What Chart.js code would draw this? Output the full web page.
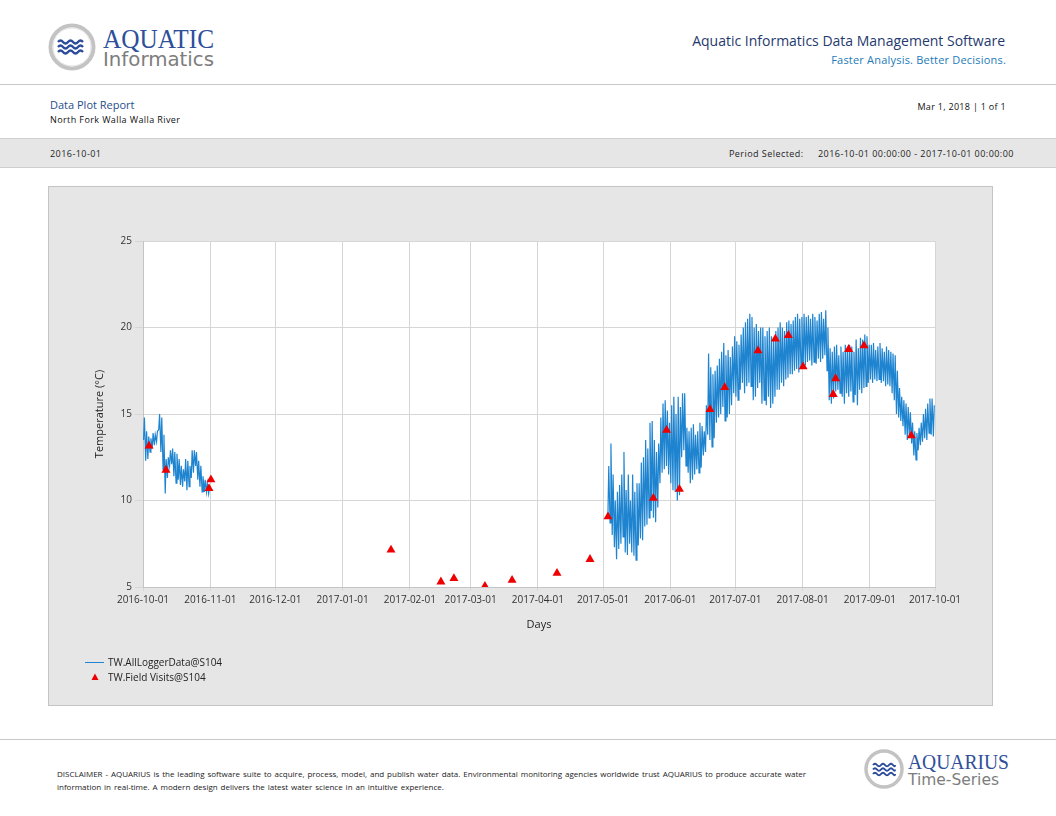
<!DOCTYPE html>
<html>
<head>
<meta charset="utf-8">
<script src="https://cdn.jsdelivr.net/npm/chart.js@4.4.1/dist/chart.umd.min.js"></script>
<style>
  body { margin: 0; width: 1056px; height: 816px; position: relative; background: #fff; font-family: "Open Sans", sans-serif; overflow: hidden; }
  .abs { position: absolute; white-space: nowrap; }
  .rule { position: absolute; left: 0; width: 1056px; height: 0; border-top: 1px solid #c8c8c8; }
  #band { position: absolute; left: 0; top: 138px; width: 1056px; height: 28px; background: #e6e6e6; border-top: 1px solid #cfcfcf; border-bottom: 1px solid #cfcfcf; }
  #band .abs { font-size: 9px; color: #222; letter-spacing: 0.45px; top: 8px; }
  #chartBox { position: absolute; left: 48px; top: 186px; width: 945px; height: 520px; box-sizing: border-box; background: #e6e6e6; border: 1px solid #c4c4c4; }
  #chartBox canvas { position: absolute; left: 0; top: 0; }
  .legend { position: absolute; left: 36px; font-size: 10px; color: #222; white-space: nowrap; }
  .legend .line { position: absolute; left: 0; top: 7px; width: 19px; height: 0; border-top: 1.5px solid #1e84d0; }
  .legend .txt { position: absolute; left: 23px; top: 0; }
</style>
</head>
<body>

<!-- header -->
<svg class="abs" style="left:44px;top:20px" width="180" height="56">
  <circle cx="28" cy="27" r="21.5" fill="#fff" stroke="#c3c3c3" stroke-width="4"/>
  <circle cx="28" cy="27" r="19" fill="none" stroke="#e4e4e4" stroke-width="1"/>
  <g fill="none" stroke="#2b4c9b" stroke-width="2.3">
    <path d="M14,22 q2.5,-3 5,0 t5,0 t5,0 t5,0 t5,0"/>
    <path d="M14,27 q2.5,-3 5,0 t5,0 t5,0 t5,0 t5,0"/>
    <path d="M14,32 q2.5,-3 5,0 t5,0 t5,0 t5,0 t5,0"/>
  </g>
  <text x="59" y="28" textLength="111" lengthAdjust="spacingAndGlyphs" font-family="Liberation Serif" font-size="27" fill="#2e4f9a">AQUATIC</text>
  <text x="59" y="46" textLength="111" lengthAdjust="spacingAndGlyphs" font-family="DejaVu Sans" font-size="19" fill="#7d7d7d">Informatics</text>
</svg>
<div class="abs" style="right:51px;top:31px;font-size:14px;color:#1f3a6e;">Aquatic Informatics Data Management Software</div>
<div class="abs" style="right:50px;top:52px;font-size:11px;color:#1b7ab8;letter-spacing:0.2px;">Faster Analysis. Better Decisions.</div>
<div class="rule" style="top:84px"></div>

<div class="abs" style="left:50px;top:97px;font-size:11px;color:#1f4e8c;">Data Plot Report</div>
<div class="abs" style="left:50px;top:113px;font-size:9px;color:#111;letter-spacing:0.4px;">North Fork Walla Walla River</div>
<div class="abs" style="right:50px;top:100px;font-size:9px;color:#111;letter-spacing:0.3px;">Mar 1, 2018 | 1 of 1</div>

<div id="band">
  <div class="abs" style="left:50px;">2016-10-01</div>
  <div class="abs" style="left:729px;">Period Selected:</div>
  <div class="abs" style="left:818px;">2016-10-01 00:00:00 - 2017-10-01 00:00:00</div>
</div>

<!-- chart -->
<div id="chartBox">
  <canvas id="tempChart" width="943" height="518"></canvas>
  <div id="legendBox"></div>
</div>

<!-- footer -->
<div class="rule" style="top:739px"></div>
<div class="abs" style="left:57px;top:767px;font-size:8px;line-height:13px;color:#222;word-spacing:0.85px;">DISCLAIMER - AQUARIUS is the leading software suite to acquire, process, model, and publish water data. Environmental monitoring agencies worldwide trust AQUARIUS to produce accurate water<br>information in real-time. A modern design delivers the latest water science in an intuitive experience.</div>
<svg class="abs" style="left:862px;top:748px" width="160" height="44">
  <circle cx="22" cy="21" r="18" fill="#fff" stroke="#c3c3c3" stroke-width="3.5"/>
  <g fill="none" stroke="#2b4c9b" stroke-width="2">
    <path d="M11,17 q2,-2.6 4,0 t4,0 t4,0 t4,0 t4,0 t2,0"/>
    <path d="M11,21.5 q2,-2.6 4,0 t4,0 t4,0 t4,0 t4,0 t2,0"/>
    <path d="M11,26 q2,-2.6 4,0 t4,0 t4,0 t4,0 t4,0 t2,0"/>
  </g>
  <text x="46" y="21" textLength="101" lengthAdjust="spacingAndGlyphs" font-family="Liberation Serif" font-size="22" fill="#2e4f9a">AQUARIUS</text>
  <text x="46" y="37" textLength="91" lengthAdjust="spacingAndGlyphs" font-family="DejaVu Sans" font-size="16" fill="#7d7d7d">Time-Series</text>
</svg>

<script>
// axis
const periodStart = "2016-10-01";
const tickDates = ["2016-10-01", "2016-11-01", "2016-12-01", "2017-01-01", "2017-02-01", "2017-03-01",
  "2017-04-01", "2017-05-01", "2017-06-01", "2017-07-01", "2017-08-01", "2017-09-01", "2017-10-01"];
const yTicks = [5, 10, 15, 20, 25];

// logger data, daily low / high, Oct 2016
const fallStart = "2016-10-01";
const fallHigh = [14.8, 14.0, 13.7, 13.6, 13.9, 13.8, 14.0, 15.0, 14.8, 13.8,
  12.4, 12.5, 12.9, 13.0, 12.8, 12.7, 12.4, 12.0, 11.8, 12.4,
  12.3, 12.0, 12.9, 12.9, 12.8, 12.3, 12.0, 11.4, 11.2, 11.0, 10.8];
const fallLow = [13.5, 12.3, 12.4, 12.8, 13.0, 13.2, 13.4, 14.1, 12.8, 11.8,
  10.4, 11.3, 12.0, 12.1, 11.4, 11.0, 11.2, 10.9, 10.8, 11.1,
  10.6, 10.8, 11.3, 11.6, 12.0, 11.2, 10.8, 10.5, 10.5, 10.5, 10.4];

// logger data, daily low / high, May 3 - Sep 30 2017
const summerStart = "2017-05-03";
const summerHigh = [
  12.0, 13.3, 11.5, 10.0, 10.5, 10.9, 11.5, 12.8, 10.6, 11.5, 10.0, 11.5, 10.5, 11.0, 11.0, 12.2, 12.5, 13.5, 13.0, 14.5, 14.6, 13.5, 12.8, 13.3, 14.8, 15.6, 15.8, 15.2, 14.5,
  15.5, 16.0, 15.0, 16.0, 15.4, 16.2, 16.2, 14.2, 14.0, 14.2, 14.4, 13.8, 14.0, 14.5, 14.3, 14.0, 15.5, 18.5, 17.7, 17.3, 17.5, 17.8, 18.2, 18.6, 19.1, 18.4, 18.7, 18.3, 18.9, 19.5,
  19.2, 19.0, 19.6, 20.0, 20.3, 20.5, 20.8, 20.6, 20.0, 20.2, 19.8, 20.0, 20.0, 19.5, 19.8, 20.0, 19.5, 19.3, 19.8, 20.0, 20.3, 20.0, 19.8, 20.3, 20.4, 20.2, 20.4, 20.6, 20.8, 20.5, 20.6,
  20.8, 20.6, 20.7, 20.5, 20.8, 20.6, 20.4, 20.8, 20.9, 20.5, 21.0, 20.0, 18.8, 18.6, 18.9, 19.0, 18.4, 18.9, 18.6, 19.0, 18.8, 19.0, 18.9, 18.6, 19.3, 18.8, 19.4, 19.3, 19.6, 19.5, 19.0,
  19.0, 19.1, 18.7, 18.9, 19.1, 18.8, 18.6, 18.9, 18.7, 18.6, 18.5, 18.4, 17.5, 16.5, 16.0, 15.8, 15.6, 15.4, 15.1, 14.5, 14.0, 13.9, 14.2, 14.5, 15.0, 15.3, 15.6, 15.9, 15.9, 15.5];
const summerLow = [
  9.0, 8.7, 8.0, 7.3, 6.6, 7.2, 7.5, 7.9, 7.0, 6.85, 7.5, 7.0, 6.8, 6.55, 7.4, 7.8, 7.7, 8.5, 8.6, 9.0, 9.4, 9.0, 8.75, 9.6, 11.0, 11.6, 11.8, 12.0, 11.5,
  11.0, 10.6, 10.5, 10.0, 10.3, 12.5, 12.9, 12.0, 11.6, 11.0, 11.2, 11.5, 11.8, 11.6, 11.9, 12.6, 12.8, 13.8, 13.5, 13.1, 13.6, 14.5, 14.8, 15.0, 15.4, 14.6, 14.8, 15.0, 15.5, 16.2,
  16.0, 15.8, 16.4, 16.8, 16.2, 16.6, 16.8, 16.6, 15.8, 16.0, 16.5, 16.8, 15.6, 15.8, 15.5, 16.0, 15.35, 15.6, 16.0, 16.4, 16.4, 16.8, 16.6, 17.0, 17.1, 17.3, 17.3, 17.5, 17.6, 17.4, 17.7,
  17.6, 17.8, 18.0, 18.1, 17.8, 18.0, 17.9, 18.2, 18.0, 18.2, 18.4, 17.5, 15.8, 15.6, 15.9, 16.3, 16.4, 16.2, 16.0, 15.6, 16.2, 16.0, 16.3, 15.7, 16.1, 15.5, 16.4, 16.2, 16.5, 16.6, 16.8,
  17.0, 16.8, 17.0, 16.9, 17.0, 16.8, 16.9, 16.6, 16.7, 16.6, 16.2, 15.8, 15.0, 14.8, 14.6, 14.3, 13.8, 13.5, 13.6, 13.3, 12.6, 12.35, 12.9, 13.2, 13.4, 13.6, 13.5, 13.9, 13.8, 13.7];

// field visits
const visitTimes = ["2016-10-03T19:00", "2016-10-11T14:00", "2016-10-31T10:00", "2016-11-01T07:00",
  "2017-01-23T07:00", "2017-02-15T07:00", "2017-02-21T07:00", "2017-03-07T14:00", "2017-03-20T02:00",
  "2017-04-09T19:00", "2017-04-25T00:00", "2017-05-03T07:00", "2017-05-24T05:00", "2017-05-30T07:00",
  "2017-06-05T05:00", "2017-06-19T07:00", "2017-06-26T02:00", "2017-07-11T10:00", "2017-07-19T10:00",
  "2017-07-25T10:00", "2017-08-01T05:00", "2017-08-15T02:00", "2017-08-16T05:00", "2017-08-22T05:00",
  "2017-08-29T07:00", "2017-09-20T02:00"];
const visitTemps = [13.15, 11.76, 10.7, 11.2, 7.14, 5.3, 5.5, 5.05, 5.4, 5.8, 6.6, 9.06, 10.13, 14.07,
  10.65, 15.27, 16.54, 18.66, 19.34, 19.55, 17.73, 16.14, 17.05, 18.74, 18.95, 13.75];

const seriesNames = ["TW.AllLoggerData@S104", "TW.Field Visits@S104"];

// days since period start
function dayOf(s) {
  const t = s.length > 10 ? s + ":00Z" : s + "T00:00:00Z";
  return (Date.parse(t) - Date.parse(periodStart + "T00:00:00Z")) / 86400000;
}

function loggerPoints(start, lows, highs) {
  const d0 = dayOf(start);
  const pts = [];
  for (let i = 0; i < lows.length; i++) {
    pts.push({ x: d0 + i + 0.25, y: lows[i] });
    pts.push({ x: d0 + i + 0.65, y: highs[i] });
  }
  return pts;
}

const loggerData = loggerPoints(fallStart, fallLow, fallHigh)
  .concat([{ x: 100, y: null }])
  .concat(loggerPoints(summerStart, summerLow, summerHigh));
const visitData = visitTimes.map((t, i) => ({ x: dayOf(t), y: visitTemps[i] }));
const tickDays = tickDates.map(dayOf);

const plotBg = {
  id: "plotBg",
  beforeDraw(chart) {
    const { ctx, chartArea: a } = chart;
    ctx.save();
    ctx.fillStyle = "#ffffff";
    ctx.fillRect(a.left, a.top, a.right - a.left, a.bottom - a.top);
    ctx.restore();
  },
};

Chart.defaults.font.family = "'Open Sans', sans-serif";
Chart.defaults.color = "#333";

const chart = new Chart(document.getElementById("tempChart"), {
  type: "scatter",
  data: {
    datasets: [
      {
        label: seriesNames[0],
        data: loggerData,
        showLine: true,
        spanGaps: false,
        borderColor: "#1e84d0",
        borderWidth: 1.2,
        pointRadius: 0,
        tension: 0,
        order: 1,
      },
      {
        label: seriesNames[1],
        data: visitData,
        showLine: false,
        pointStyle: "triangle",
        pointRadius: 5.2,
        backgroundColor: "#ee0000",
        borderColor: "#ee0000",
        borderWidth: 0,
        order: 0,
      },
    ],
  },
  options: {
    responsive: false,
    animation: false,
    layout: { padding: { left: 40, top: 54, right: 57, bottom: 70 } },
    plugins: { legend: { display: false }, tooltip: { enabled: false } },
    scales: {
      x: {
        type: "linear",
        min: 0,
        max: 365,
        afterBuildTicks: (scale) => { scale.ticks = tickDays.map((v) => ({ value: v })); },
        afterFit: (scale) => { scale.height = 48; },
        ticks: {
          autoSkip: false,
          maxRotation: 0,
          padding: 3,
          font: { size: 10 },
          color: "#333",
          callback: (v, i) => tickDates[i],
        },
        grid: { color: "#d6d6d6", tickLength: 4 },
        border: { color: "#c4c4c4" },
        title: { display: true, text: "Days", font: { size: 11 }, color: "#222" },
      },
      y: {
        min: 5,
        max: 25,
        afterBuildTicks: (scale) => { scale.ticks = yTicks.map((v) => ({ value: v })); },
        afterFit: (scale) => { scale.width = 54; },
        ticks: { padding: 3, font: { size: 10 }, color: "#333" },
        grid: { color: "#d6d6d6", tickLength: 8 },
        border: { color: "#c4c4c4" },
        title: { display: true, text: "Temperature (°C)", font: { size: 11 }, color: "#222" },
      },
    },
  },
  plugins: [plotBg],
});

// legend from the chart datasets
const legendBox = document.getElementById("legendBox");
chart.data.datasets.forEach((ds, i) => {
  const item = document.createElement("div");
  item.className = "legend";
  item.style.top = 468 + i * 15 + "px";
  if (i === 0) {
    item.innerHTML = '<div class="line"></div>';
  } else {
    item.innerHTML = '<svg style="position:absolute;left:6px;top:3px" width="8" height="8"><polygon points="4,0.5 7.5,7 0.5,7" fill="' + ds.backgroundColor + '"/></svg>';
  }
  const t = document.createElement("span");
  t.className = "txt";
  t.textContent = ds.label;
  item.appendChild(t);
  legendBox.appendChild(item);
});
</script>
</body>
</html>
